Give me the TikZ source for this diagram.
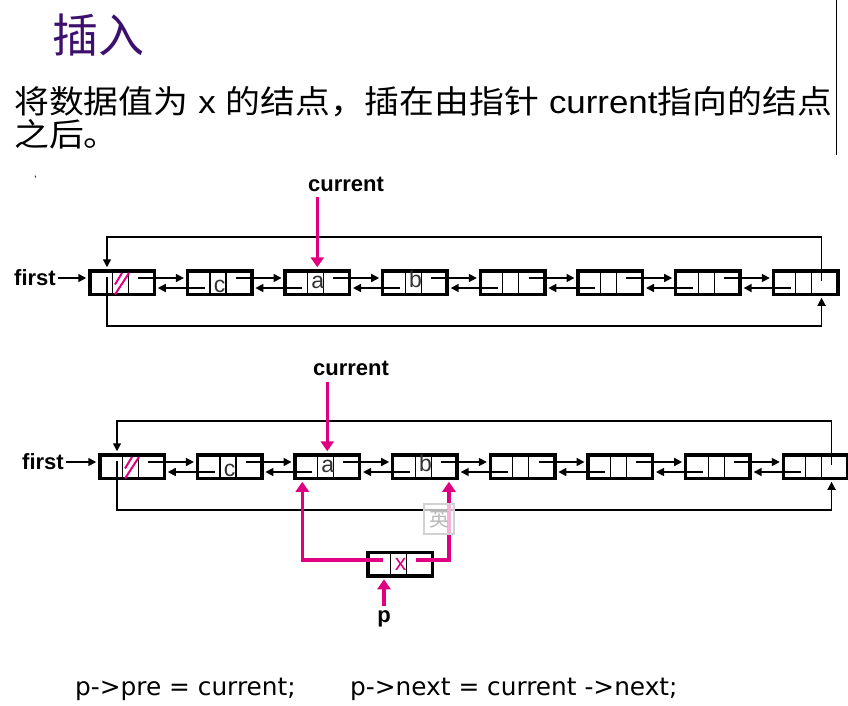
\documentclass[tikz,border=0pt]{standalone}
\usepackage{fontspec}
\usepackage{graphicx}
\setmainfont{Liberation Sans}
\newfontfamily\cjk{Noto Sans CJK SC}
\newfontfamily\codefont{DejaVu Sans}
\usetikzlibrary{arrows.meta,calc}
\definecolor{mag}{RGB}{222,0,128}
\definecolor{titlepurple}{RGB}{62,16,110}
\definecolor{celltext}{RGB}{50,50,50}
\tikzset{
  lnode/.style={draw=black, line width=3.5pt, minimum width=64.5pt, minimum height=23.5pt, inner sep=0pt},
  divline/.style={line width=1.1pt},
  ptr/.style={line width=1.6pt, -{Triangle[length=8pt,width=8pt]}},
  pinkptr/.style={draw=mag, line width=3.5pt, -{Triangle[length=10pt,width=13pt]}},
  hatch/.style={draw=mag, line width=2pt},
  lbl/.style={inner sep=0pt, font=\fontsize{22}{26}\selectfont\bfseries},
  celltxt/.style={inner sep=0pt, text=celltext, font=\fontsize{23}{27}\selectfont},
  codetxt/.style={anchor=base west, inner sep=0pt, font=\codefont\fontsize{24.8}{28}\selectfont},
}
\begin{document}
\begin{tikzpicture}[x=1pt,y=-1pt]
\useasboundingbox (0,0) rectangle (848,705);
\fill[white] (0,0) rectangle (848,705);

% title and text
\node[anchor=base west, inner sep=0pt, text=titlepurple] (title) at (52,52) {\fontsize{46}{50}\selectfont\cjk 插入};
\node[anchor=base west, inner sep=0pt] (line1) at (14,113) {\fontsize{32}{36}\selectfont\scalebox{1.09}[1]{{\cjk 将数据值为} x {\cjk 的结点，插在由指针} current{\cjk 指向的结点}}};
\node[anchor=base west, inner sep=0pt] (line2) at (14,146) {\fontsize{32}{36}\selectfont\scalebox{1.09}[1]{\cjk 之后。}};
\draw[line width=1pt] (836,0) -- (836,155);
\draw[blue!70!black, line width=0.8pt] (35,175.5) -- (35.6,177.5);

% the two lists
\foreach \nm/\cx/\cy in {A/122/282.5,B/132/466.5}{
  \foreach \i in {1,...,8}{
    \node[lnode] (\nm\i) at ({\cx+97.65*(\i-1)},\cy) {};
    \draw[divline] ($(\nm\i.north west)+(24.3,0)$) -- ($(\nm\i.south west)+(24.3,0)$);
    \draw[divline] ($(\nm\i.north west)+(40.3,0)$) -- ($(\nm\i.south west)+(40.3,0)$);
  }
  \foreach \i/\j in {1/2,2/3,3/4,4/5,5/6,6/7,7/8}{
    \draw[ptr] ($(\nm\i.center)+(16,-4.5)$) -- ($(\nm\j.west)+(-1.75,-4.5)$);
    \draw[ptr] ($(\nm\j.center)+(-15,5.5)$) -- ($(\nm\i.east)+(1.75,5.5)$);
  }
  \draw[ptr] ($(\nm8.center)+(16,-2)$) |- ($(\nm1.center)+(-15,-45.5)$) -- ($(\nm1.north)+(-15,-1.75)$);
  \draw[ptr] ($(\nm1.center)+(-15,-6)$) |- ($(\nm8.center)+(16,43.75)$) -- ($(\nm8.south)+(16,1.75)$);
  \draw[hatch] ($(\nm1.center)+(-7,12)$) -- ($(\nm1.center)+(7,-9.5)$);
  \draw[hatch] ($(\nm1.center)+(-7,2)$) -- ($(\nm1.center)+(0,-9.5)$);
  \node[celltxt, anchor=base] (\nm c) at ($(\nm2.center)+(0,10)$) {c};
  \node[celltxt, anchor=base] (\nm a) at ($(\nm3.center)+(0.5,5.5)$) {a};
  \node[celltxt, anchor=base] (\nm b) at ($(\nm4.center)+(0.5,5)$) {b};
}

% labels top
\node[lbl, anchor=east] (first1) at (56,278) {first};
\draw[ptr] (first1.east) ++(1.5,0) -- ($(A1.west)+(-1.75,-4.5)$);
\node[lbl, anchor=base] (cur1) at (346,191) {current};
\draw[pinkptr] ($(A3.north |- cur1.south)+(0,6)$) -- ($(A3.north)+(0,-1.75)$);

% labels bottom
\node[lbl, anchor=east] (first2) at (64,462) {first};
\draw[ptr] (first2.east) ++(1.5,0) -- ($(B1.west)+(-1.75,-4.5)$);
\node[lbl, anchor=base] (cur2) at (351,375) {current};
\draw[pinkptr] ($(B3.north |- cur2.south)+(0,7)$) -- ($(B3.north)+(0,-1.75)$);

% new node p
\node[lnode] (P) at (400,564) {};
\draw[divline] ($(P.north west)+(24.3,0)$) -- ($(P.south west)+(24.3,0)$);
\draw[divline] ($(P.north west)+(40.3,0)$) -- ($(P.south west)+(40.3,0)$);
\node[celltxt, anchor=base, text=mag] (Px) at ($(P.center)+(0.5,6)$) {x};
\draw[pinkptr] ($(P.center)+(-17,-4)$) -| ($(B3.south)+(-25,1.75)$);
\draw[pinkptr] ($(P.center)+(16,-4)$) -| ($(B4.south)+(24,1.75)$);
\node[lbl, anchor=base] (plbl) at (384,622) {p};
\draw[pinkptr] ($(P.south)+(-16,28)$) -- ($(P.south)+(-16,1.75)$);

% IME indicator box
\node[draw=gray!35, line width=2pt, minimum size=30pt, inner sep=0pt, fill=white, fill opacity=0.7, text opacity=1, text=gray!55] (ime) at (439,519) {\fontsize{20}{22}\selectfont\cjk 英};

% code
\node[codetxt] (code1) at (75,695) {p->pre = current;};
\node[codetxt] (code2) at (350,695) {p->next = current ->next;};
\end{tikzpicture}
\end{document}
